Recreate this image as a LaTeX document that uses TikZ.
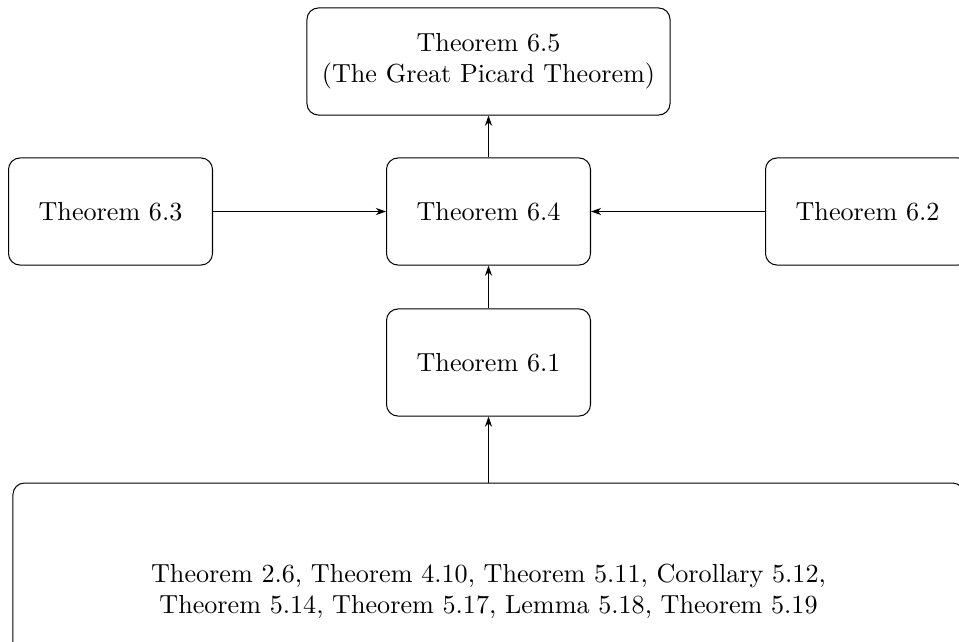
\documentclass[tikz,border=0pt]{standalone}
\usetikzlibrary{arrows.meta}
\begin{document}
\begin{tikzpicture}[x=0.3922pt, y=-0.3922pt,
  thm/.style={draw, rounded corners=4.5pt, align=center, inner sep=0pt,
    minimum width=80pt, minimum height=42pt, line width=0.4pt,
    font=\fontsize{10.25pt}{12.2pt}\selectfont},
  arr/.style={-{Stealth[length=4pt,width=2.8pt]}, line width=0.4pt}]
\useasboundingbox (0,0) rectangle (959,641);
\node[thm, minimum width=142.4pt] (t65) at (488.5,61.5) {Theorem 6.5\\(The Great Picard Theorem)};
\node[thm] (t63) at (110.5,211.5) {Theorem 6.3};
\node[thm] (t64) at (488.5,211.5) {Theorem 6.4};
\node[thm] (t62) at (867.5,211.5) {Theorem 6.2};
\node[thm] (t61) at (488.5,362.5) {Theorem 6.1};
\node[thm, minimum width=373pt, minimum height=84.7pt] (base) at (488.5,591)
  {Theorem 2.6, Theorem 4.10, Theorem 5.11, Corollary 5.12,\\Theorem 5.14, Theorem 5.17, Lemma 5.18, Theorem 5.19};
\draw[arr] (t64) -- (t65);
\draw[arr] (t63) -- (t64);
\draw[arr] (t62) -- (t64);
\draw[arr] (t61) -- (t64);
\draw[arr] (base) -- (t61);
\end{tikzpicture}
\end{document}
